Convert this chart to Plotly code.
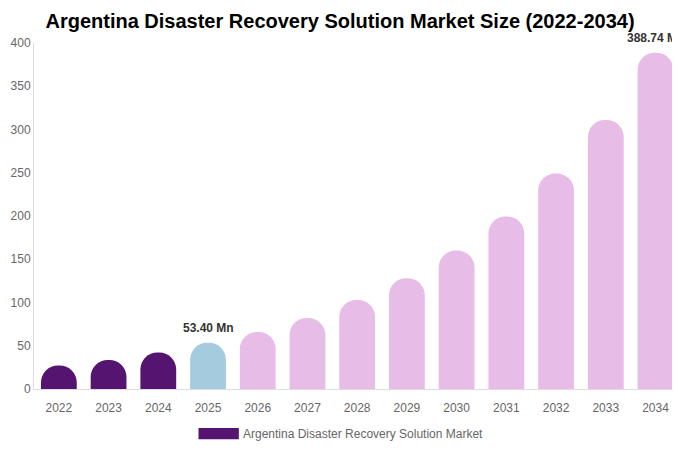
import plotly.graph_objects as go

years = ["2022", "2023", "2024", "2025", "2026", "2027", "2028",
         "2029", "2030", "2031", "2032", "2033", "2034"]
market_size = [27.2, 33.6, 42.3, 53.40, 66.0, 82.0, 103.0,
               128.0, 160.0, 199.5, 249.0, 311.0, 388.74]
bar_labels = ["", "", "", "53.40 Mn", "", "", "", "", "", "", "", "", "388.74 Mn"]

dark_purple = "#541470"
light_blue = "#A4CBDE"
pink = "#E7BDE8"
bar_colors = [dark_purple] * 3 + [light_blue] + [pink] * 9

fig = go.Figure()
fig.add_trace(go.Bar(
    x=years,
    y=market_size,
    marker=dict(color=bar_colors, line=dict(width=0)),
    cliponaxis=False,
    showlegend=False,
))

# value labels above the highlighted bars (x given as category index)
for i, (val, lab) in enumerate(zip(market_size, bar_labels)):
    if lab:
        fig.add_annotation(x=i, y=val, text="<b>" + lab + "</b>",
                           showarrow=False, yanchor="bottom", yshift=6,
                           font=dict(size=12, color="#333333"))

# legend drawn by hand so the swatch is a wide rectangle
fig.add_shape(type="rect", xref="paper", yref="paper",
              x0=0.2523, x1=0.3142, y0=-0.145, y1=-0.113,
              fillcolor=dark_purple, line=dict(width=0))
fig.add_annotation(text="Argentina Disaster Recovery Solution Market",
                   xref="paper", yref="paper", x=0.318, y=-0.129,
                   xanchor="left", yanchor="middle", showarrow=False,
                   font=dict(size=12, color="#666666"))

# the page body adds an offset, so margins are shifted to compensate
fig.update_layout(
    width=680, height=450,
    margin=dict(l=26, r=2, t=35, b=69),
    paper_bgcolor="white", plot_bgcolor="white",
    font=dict(family="Liberation Sans, Arial", size=12, color="#666666"),
    title=dict(text="<b>Argentina Disaster Recovery Solution Market Size (2022-2034)</b>",
               x=(340 - 8) / 680, xanchor="center", y=0.971, yanchor="middle",
               font=dict(size=20, color="#000000")),
    bargap=0.28,
    barcornerradius="50%",
    xaxis=dict(type="category", showgrid=False, showline=True, linecolor="#dddddd",
               ticks="outside", ticklen=8, tickcolor="rgba(0,0,0,0)",
               automargin=False, tickfont=dict(size=12, color="#666666")),
    yaxis=dict(range=[0, 400], dtick=50, showgrid=False, showline=True,
               linecolor="#dddddd", zeroline=False, ticks="",
               automargin=False, tickfont=dict(size=12, color="#666666")),
)

fig.write_html("out.html")
